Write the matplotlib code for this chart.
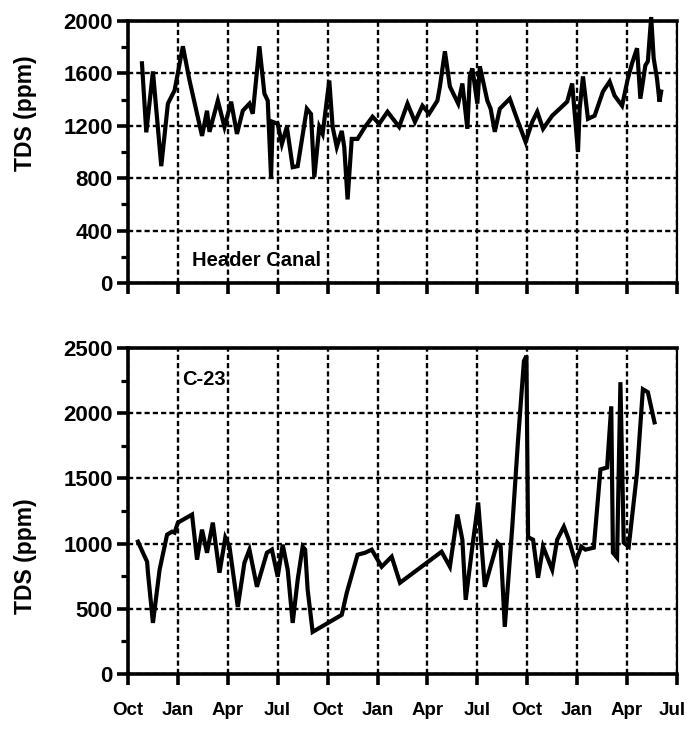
import matplotlib
matplotlib.use("Agg")
import matplotlib.pyplot as plt
from matplotlib.ticker import MultipleLocator
from matplotlib.transforms import ScaledTranslation

plt.rcParams['font.family'] = ['Liberation Sans', 'DejaVu Sans']
plt.rcParams['font.weight'] = 'bold'

# Months elapsed since the first October on the chart
month_ticks = list(range(0, 34, 3))
month_labels = ['Oct', 'Jan', 'Apr', 'Jul', 'Oct', 'Jan', 'Apr', 'Jul',
                'Oct', 'Jan', 'Apr', 'Jul']

# Header Canal TDS (ppm)
header_month = [0.84, 1.1, 1.5, 2.0, 2.4, 2.8, 3.3, 3.7, 4.45, 4.75, 4.9, 5.4,
                5.8, 6.2, 6.55, 6.9, 7.3, 7.5, 7.9, 8.2, 8.4, 8.6, 8.7, 9.0,
                9.25, 9.55, 9.9, 10.2, 10.75, 11.0, 11.2, 11.5, 11.7, 12.1,
                12.3, 12.55, 12.85, 13.0, 13.2, 13.45, 13.8, 14.25, 14.7, 15.1,
                15.6, 16.3, 16.8, 17.25, 17.7, 18.1, 18.6, 18.75, 19.05, 19.35,
                19.85, 20.1, 20.4, 20.55, 20.7, 21.0, 21.15, 21.6, 21.8, 22.05,
                22.35, 22.95, 23.45, 23.9, 24.3, 24.6, 24.95, 25.5, 25.95,
                26.4, 26.7, 27.05, 27.15, 27.35, 27.65, 28.05, 28.55, 28.95,
                29.25, 29.7, 30.05, 30.3, 30.6, 30.8, 31.1, 31.25, 31.45, 31.6,
                31.8, 31.95, 32.05]
header_tds = [1677, 1150, 1615, 892, 1370, 1470, 1807, 1546, 1123, 1315, 1154,
              1392, 1192, 1384, 1138, 1315, 1369, 1292, 1807, 1446, 1392, 807,
              1230, 1215, 1061, 1192, 884, 892, 1330, 1290, 807, 1192, 1138,
              1546, 1192, 1038, 1161, 1038, 638, 1100, 1100, 1192, 1269, 1215,
              1307, 1192, 1369, 1230, 1353, 1292, 1392, 1500, 1769, 1500,
              1369, 1523, 1177, 1577, 1638, 1369, 1654, 1392, 1330, 1154,
              1330, 1407, 1230, 1077, 1230, 1307, 1177, 1277, 1330, 1384,
              1523, 1000, 1330, 1577, 1253, 1277, 1461, 1538, 1430, 1353,
              1561, 1677, 1792, 1407, 1661, 1692, 2030, 1715, 1561, 1384,
              1461]

# C-23 TDS (ppm)
c23_month = [0.6, 0.9, 1.15, 1.2, 1.5, 1.9, 2.35, 2.65, 2.8, 3.0, 3.85, 4.15,
             4.45, 4.75, 5.1, 5.5, 5.85, 6.1, 6.6, 7.0, 7.3, 7.75, 8.35, 8.65,
             9.0, 9.3, 9.6, 9.9, 10.2, 10.5, 10.65, 10.8, 11.1, 12.85, 13.15,
             13.8, 14.25, 14.65, 15.25, 15.85, 16.35, 18.85, 19.35, 19.8,
             20.1, 20.3, 20.7, 21.05, 21.45, 22.2, 22.4, 22.65, 23.1, 23.45,
             23.8, 23.95, 24.05, 24.35, 24.65, 24.95, 25.5, 25.8, 26.2, 26.5,
             26.9, 27.25, 27.5, 28.0, 28.4, 28.8, 29.05, 29.15, 29.4, 29.6,
             29.8, 30.1, 30.6, 30.95, 31.25, 31.65]
c23_tds = [1015, 930, 861, 777, 392, 800, 1069, 1092, 1084, 1161, 1223, 877,
           1107, 930, 1161, 777, 1046, 977, 515, 854, 954, 669, 930, 954, 746,
           992, 800, 392, 723, 977, 954, 646, 323, 454, 623, 915, 930, 954,
           823, 900, 700, 938, 823, 1223, 1030, 569, 977, 1315, 669, 1007, 977,
           362, 1130, 1800, 2400, 2440, 1050, 1030, 738, 977, 800, 1030, 1130,
           1030, 854, 977, 954, 969, 1569, 1584, 2053, 930, 892, 2238, 1007,
           977, 1546, 2184, 2161, 1930]

fig = plt.figure(figsize=(6.87, 7.29), dpi=100)
ax_top = fig.add_axes([0.1863, 0.6118, 0.7991, 0.3594])
ax_bot = fig.add_axes([0.1863, 0.0754, 0.7991, 0.4472])

grid_kw = dict(color='black', linewidth=1.7, linestyle=(0, (2.2, 1.3)))


def style_axes(ax, ymax, major, minor):
    ax.set_xlim(0, 33)
    ax.set_ylim(0, ymax)
    ax.set_xticks(month_ticks)
    ax.yaxis.set_major_locator(MultipleLocator(major))
    ax.yaxis.set_minor_locator(MultipleLocator(minor))
    ax.grid(True, which='major', **grid_kw)
    ax.set_axisbelow(True)
    for side in ('left', 'bottom', 'top'):
        ax.spines[side].set_linewidth(2.6)
    ax.spines['right'].set_linewidth(1.6)
    ax.tick_params(axis='both', which='major', direction='out', length=8,
                   width=2.6, labelsize=16, pad=3)
    ax.tick_params(axis='y', which='minor', direction='out', length=5,
                   width=2.3)
    ax.tick_params(axis='x', labelsize=13.5, pad=12)
    for lab in ax.get_yticklabels():
        lab.set_fontweight('bold')


style_axes(ax_top, 2000, 400, 200)
style_axes(ax_bot, 2500, 500, 250)
ax_top.set_xticklabels([])
ax_bot.set_xticklabels(month_labels, fontweight='bold')

# keep the final month label inside the canvas
last_label = ax_bot.get_xticklabels()[-1]
last_label.set_transform(last_label.get_transform() +
                         ScaledTranslation(-5 / 100, 0, fig.dpi_scale_trans))

ax_top.plot(header_month, header_tds, color='black', linewidth=3.0,
            solid_joinstyle='miter', clip_on=False, zorder=3)
ax_bot.plot(c23_month, c23_tds, color='black', linewidth=3.0,
            solid_joinstyle='miter', clip_on=False, zorder=3)

ax_top.text(3.85, 175, 'Header Canal', fontsize=14.5, fontweight='bold',
            ha='left', va='center')
ax_bot.text(3.25, 2260, 'C-23', fontsize=14.5, fontweight='bold',
            ha='left', va='center')

for ax, ypos in ((ax_top, 0.65), (ax_bot, 0.36)):
    ax.set_ylabel('TDS (ppm)', fontsize=16.5, fontweight='bold')
    ax.yaxis.set_label_coords(-0.165, ypos)

fig.savefig('out.png', dpi=100)
